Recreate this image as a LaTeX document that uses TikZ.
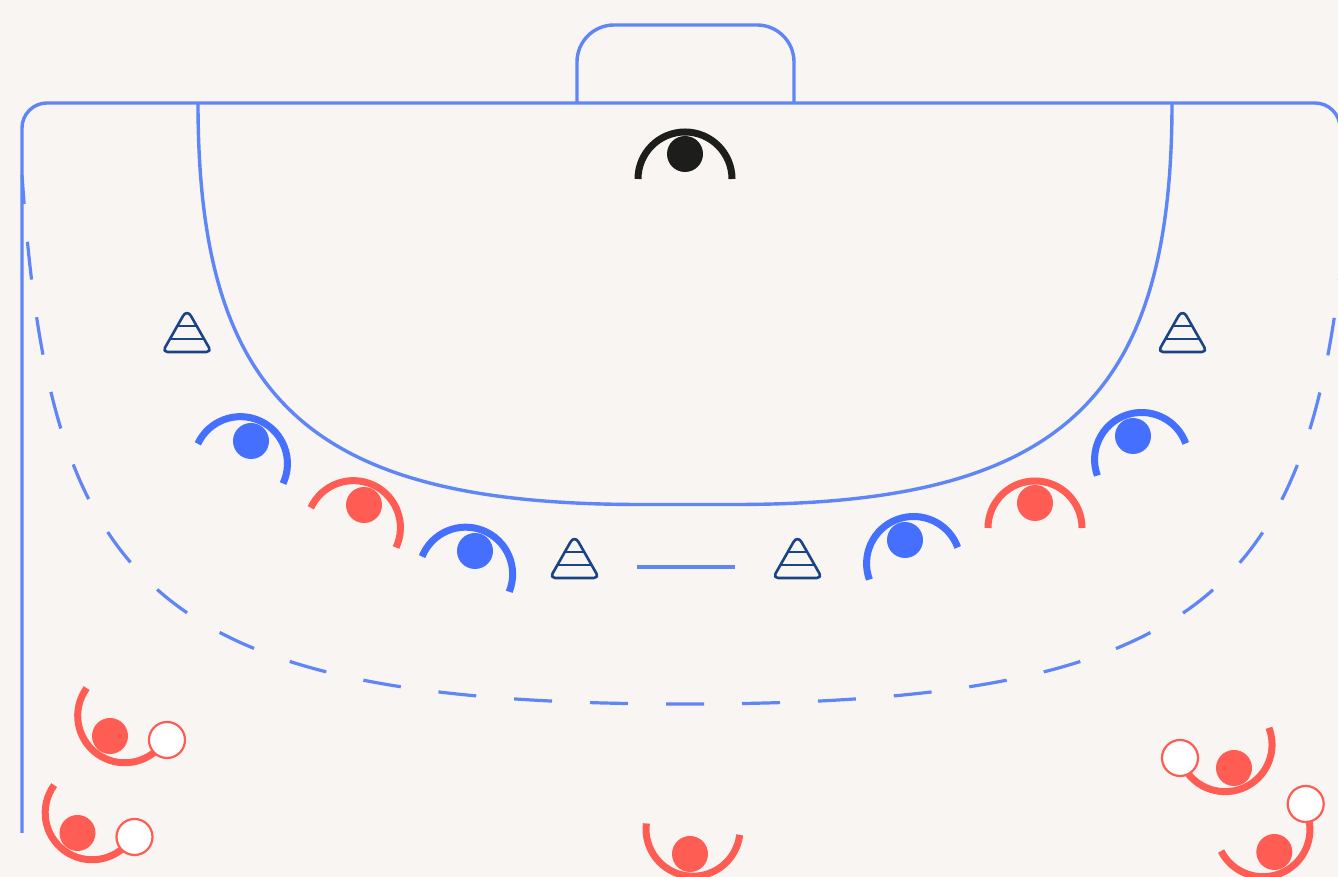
\documentclass[tikz,border=0pt]{standalone}
\definecolor{courtbg}{HTML}{F9F5F2}
\definecolor{courtline}{HTML}{5F86F7}
\definecolor{teamblue}{HTML}{4570FF}
\definecolor{teamred}{HTML}{FF5C53}
\definecolor{keeperink}{HTML}{1D1D1B}
\definecolor{coneink}{HTML}{1A4488}
\tikzset{
  linecourt/.style={courtline,line width=3.4pt},
  linedash/.style={courtline,line width=3.2pt,dash pattern=on 38pt off 38pt,dash phase=19pt},
  playerdot/.style={circle,inner sep=0pt,minimum size=36pt},
  playerarc/.style={line width=7pt},
  balldot/.style={circle,draw=teamred,fill=white,line width=2.2pt,inner sep=0pt,minimum size=36pt},
  coneline/.style={coneink,line width=2.6pt,line join=round},
}
\newcommand{\courtplayer}[5]{%
  \node[playerdot,fill=#5] (#1) at (#2,#3) {};
  \draw[playerarc,#5] (#1) ++(#4+180:25) ++(#4+90:47)
    arc[start angle=#4+90,delta angle=-180,radius=47];
}
\newcommand{\courtcone}[2]{%
  \draw[coneline] (#1,#2) [rounded corners=5pt] -- (#1+24.5,#2)
    [rounded corners=8pt] -- (#1,#2+43) [rounded corners=5pt] -- (#1-24.5,#2) -- cycle;
  \draw[coneline] (#1-10,#2+26) -- (#1+10,#2+26);
  \draw[coneline] (#1-17,#2+13) -- (#1+17,#2+13);
}

\begin{document}
\begin{tikzpicture}[x=1pt,y=1pt]
    \useasboundingbox (0,0) rectangle (1338,877);
    \clip (0,0) rectangle (1338,877);
    \fill[courtbg] (0,0) rectangle (1338,877);
    % court
    \draw[linecourt,rounded corners=25pt] (22,44) -- (22,774) -- (1340,774) -- (1340,600);
    \draw[linecourt,rounded corners=37pt] (577,774) -- (577,852) -- (794,852) -- (794,774);
    \draw[linecourt] (198,774) .. controls (198,477) and (310,372.5) .. (640,372.5)
      -- (735,372.5) .. controls (1060,372.5) and (1172,477) .. (1172,774);
    \draw[linecourt] (637,310) -- (735,310);
    \draw[linedash] (685,173) .. controls (145,173) and (50,292) .. (22,702);
    \draw[linedash] (685,173) .. controls (1225,173) and (1321,292) .. (1349,702);
    % cones
    \foreach \conex/\coney in {187/525,1182.5/525,574.5/299,797.5/299}
      \courtcone{\conex}{\coney};
    % players
    \courtplayer{keeper}{685}{723}{90}{keeperink}
    \courtplayer{blueA}{251}{436}{65}{teamblue}
    \courtplayer{redA}{364}{372}{65}{teamred}
    \courtplayer{blueB}{475}{326}{68}{teamblue}
    \courtplayer{blueC}{905}{337}{110}{teamblue}
    \courtplayer{redB}{1035}{374}{90}{teamred}
    \courtplayer{blueD}{1133}{441}{110}{teamblue}
    \courtplayer{redC}{690}{23}{-97}{teamred}
    \courtplayer{redD}{110}{141}{-126}{teamred}
    \courtplayer{redE}{77.5}{44}{-126}{teamred}
    \courtplayer{redF}{1234}{109}{-69}{teamred}
    \courtplayer{redG}{1274.3}{25}{-63}{teamred}
    % balls
    \node[balldot] (ballD) at (167,137) {};
    \node[balldot] (ballE) at (134.5,40) {};
    \node[balldot] (ballF) at (1180,119) {};
    \node[balldot] (ballG) at (1305.7,73) {};
  \end{tikzpicture}
\end{document}
